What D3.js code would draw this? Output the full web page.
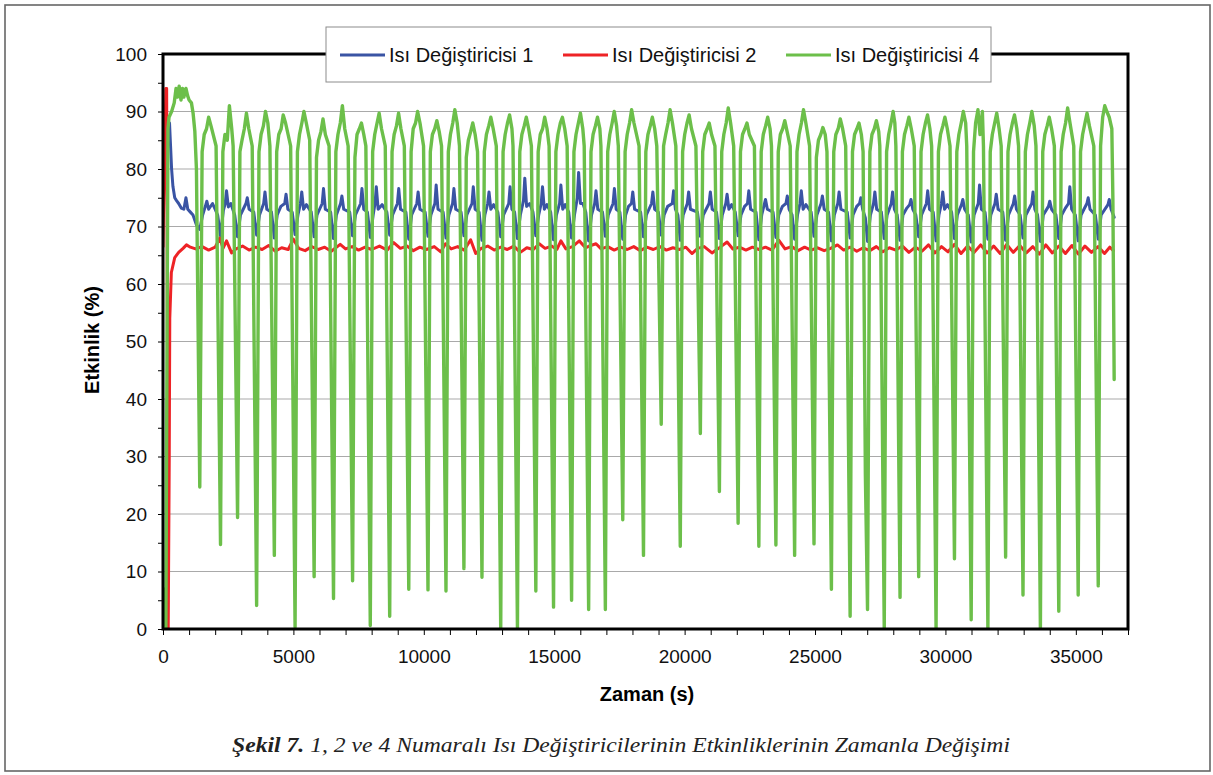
<!DOCTYPE html>
<html><head><meta charset="utf-8">
<script src="https://cdn.jsdelivr.net/npm/d3@7/dist/d3.min.js"></script>
<style>body{margin:0;background:#fff}svg{display:block}</style>
</head><body><svg id="c" width="1213" height="775"></svg>
<script>
const seriesNames = ["Isı Değiştiricisi 1", "Isı Değiştiricisi 2", "Isı Değiştiricisi 4"];
const seriesColors = ["#3a54a4", "#ee2326", "#6cbf4a"];
const xTickLabels = [0, 5000, 10000, 15000, 20000, 25000, 30000, 35000];
const xMinorTicks = [0,1000,2000,3000,4000,5000,6000,7000,8000,9000,10000,11000,12000,13000,14000,15000,16000,17000,18000,19000,20000,21000,22000,23000,24000,25000,26000,27000,28000,29000,30000,31000,32000,33000,34000,35000,36000,37000];
const yTickLabels = [0, 10, 20, 30, 40, 50, 60, 70, 80, 90, 100];
const yMinorTicks = [0,5,10,15,20,25,30,35,40,45,50,55,60,65,70,75,80,85,90,95,100];
const xTitle = "Zaman (s)";
const yTitle = "Etkinlik (%)";

// Isı Değiştiricisi 1 (blue)
const hx1 = [
[250,88],[290,84],[330,80],[380,77],[450,75],[520,74.5],[600,74],[700,73.2],[800,73],[880,75],[950,73],[1050,72.5],[1150,72],[1280,70.3],
[1410,69.5],[1520,72],[1630,73.6],[1680,74.4],[1750,73],[1900,74],[2095,72],
[2205,68.4],[2315,72.8],[2386,74],[2436,76.2],[2506,73.4],[2600,74],[2749,72],
[2859,68.2],[2969,72],[3181,74],[3231,75],[3301,73],[3480,72.5],
[3590,68.5],[3700,72],[3860,74],[3910,76],[3980,73],[4159,72.5],
[4269,68],[4379,72],[4520,73.5],[4668,74],[4718,75.6],[4788,73],[4954,72.5],
[5064,68.6],[5174,72],[5270,74],[5320,76],[5390,73],[5500,73.8],[5685,72.5],
[5795,68.2],[5905,72],[6104,74],[6154,76.6],[6224,73],[6428,72.5],
[6538,67.9],[6648,72],[6809,74],[6859,75.3],[6929,73],[7159,72.5],
[7269,68.4],[7379,72],[7578,74],[7628,76.6],[7698,73],[7838,72.5],
[7948,68.1],[8058,72],[8129,74],[8179,76.9],[8249,73],[8400,73.8],[8582,72.5],
[8692,68.5],[8802,72],[8988,74],[9038,76.6],[9108,73],[9313,72.5],
[9423,67.8],[9533,72],[9732,74],[9782,76],[9852,73],[10050,72.5],
[10160,68.3],[10270,72],[10424,74],[10474,77.2],[10544,73],[10740,72.5],
[10850,68],[10960,72],[11104,74],[11154,76.6],[11224,73],[11428,72.5],
[11538,68.4],[11648,72],[11847,74],[11897,76.9],[11967,73],[12120,72.5],
[12230,67.6],[12340,72],[12450,74],[12500,76],[12570,73],[12680,73.8],[12839,72.5],
[12949,68.2],[13059,72],[13257,74],[13307,76.9],[13377,73],[13480,72.5],
[13590,67.9],[13700,72],[13822,74.5],[13872,78.4],[13942,73.5],[14060,74],[14185,72.5],
[14295,68.4],[14405,72],[14501,74],[14551,76.9],[14621,73],[14720,73.8],[14864,72.5],
[14974,67.7],[15084,72],[15206,74],[15256,77.2],[15326,73],[15420,73.8],[15556,72.5],
[15666,68],[15776,72],[15886,75],[15936,79.4],[16006,74],[16100,74],[16210,72.5],
[16320,67.5],[16430,72],[16552,74],[16602,76.2],[16672,73],[16851,72.5],
[16961,68.3],[17071,72],[17257,74],[17307,76.6],[17377,73],[17518,72.5],
[17628,67.8],[17738,72],[17850,73.5],[17962,74],[18012,76],[18082,73],[18313,72.5],
[18423,68.2],[18533,72],[18732,74],[18782,76],[18852,73],[18993,72.5],
[19103,68.5],[19213,72],[19350,73.5],[19527,74],[19577,76.2],[19647,73],[19740,72],
[19833,67.6],[19943,72],[20104,74],[20154,76],[20224,73],[20493,72.5],
[20603,68.3],[20713,72],[20937,74],[20987,76],[21057,73],[21223,72.5],
[21333,67.9],[21443,72],[21578,74],[21628,75.6],[21698,73],[21800,73.8],[21941,72.5],
[22051,68.4],[22161,72],[22300,73.5],[22411,74],[22461,76.2],[22531,73],[22736,72.5],
[22846,67.7],[22956,72],[23052,73.8],[23102,74.7],[23172,73],[23390,72.5],
[23500,68.1],[23610,72],[23750,73.5],[23886,74],[23936,75.3],[24006,73],[24120,72],
[24218,67.8],[24328,72],[24424,74],[24474,76.2],[24544,73],[24650,73.8],[24851,72.5],
[24961,68.3],[25071,72],[25232,74],[25282,75.3],[25352,73],[25518,72.5],
[25628,67.5],[25738,72],[25873,74],[25923,76],[25993,73],[26236,72.5],
[26346,68],[26456,72],[26600,73.5],[26706,74],[26756,75],[26826,73],[26930,71.5],
[27013,67.4],[27123,72],[27244,74],[27294,76],[27364,73],[27544,72.5],
[27654,67.9],[27764,72],[27924,74],[27974,76],[28044,73],[28150,72],
[28260,67.6],[28370,72],[28520,73.2],[28629,73.8],[28679,74.7],[28749,73],[28864,72],
[28974,68.2],[29084,72],[29270,74],[29320,76.2],[29390,73],[29531,72.5],
[29641,67.5],[29751,72],[29847,74],[29897,76],[29967,73],[30080,73.8],[30236,72.5],
[30346,67.9],[30456,72],[30617,73.8],[30667,74.7],[30737,73],[30877,72],
[30987,67.3],[31097,72],[31258,74],[31308,77.2],[31378,73],[31518,72.5],
[31628,67.8],[31738,72],[31899,74],[31949,75.6],[32019,73],[32198,72.5],
[32308,67.6],[32418,72],[32604,74],[32654,75.3],[32724,73],[32864,72],
[32974,68],[33084,72],[33309,74],[33359,76],[33429,73],[33531,72],
[33641,67.4],[33751,72],[33950,73.5],[34000,74.4],[34070,73],[34236,72],
[34346,67.9],[34456,72],[34600,73.2],[34719,74],[34769,76.9],[34839,73],[34980,72],
[35090,67.5],[35200,72],[35424,74],[35474,75],[35544,73],[35749,72],
[35859,67.8],[35969,72],[36232,73.8],[36282,74.7],[36352,73],[36470,71.6]
];

// Isı Değiştiricisi 2 (red)
const hx2 = [
[0,66.5],[30,75],[110,94],[140,94],[200,0],[240,30],[260,54],[320,62],[450,64.6],[600,65.5],[770,66.2],[900,66.8],
[1050,66.4],[1250,66.1],[1500,66.5],[1750,65.9],[2000,66.4],[2180,68],[2300,66.2],[2436,67.5],[2630,65.4],[2800,66.1],
[3050,66.6],[3300,65.9],[3550,66.4],[3800,66.0],[4050,66.7],[4300,65.7],[4550,66.3],[4800,66.0],[5000,67.8],[5200,66.2],
[5450,65.8],[5700,66.5],[5950,66.0],[6200,66.4],[6450,65.7],[6795,66.9],[7000,66.1],[7250,66.5],[7500,65.9],[7750,66.4],
[8000,66.0],[8300,66.6],[8600,65.9],[8846,67.2],[9100,66.2],[9350,66.6],[9600,65.8],[9850,66.4],[10100,66.0],[10400,66.5],
[10650,65.6],[10833,67],[11050,66.1],[11300,66.5],[11550,65.9],[11795,67.7],[11990,65.3],[12200,66.2],[12450,66.6],[12700,65.9],
[12950,66.4],[13200,66.0],[13450,66.6],[13700,65.5],[13950,66.3],[14200,66.0],[14423,67],[14650,66.2],[14900,66.6],[15100,66.0],
[15256,67.5],[15450,66.1],[15700,66.5],[15961,67.5],[16200,66.3],[16400,66.7],[16602,67],[16800,66.1],[17050,66.5],[17300,65.9],
[17550,66.4],[17800,66.0],[18050,66.5],[18300,65.8],[18550,66.4],[18800,66.0],[19050,66.5],[19300,65.9],[19550,66.3],[19800,66.0],
[20050,66.4],[20282,65.3],[20500,66.2],[20750,66.5],[21050,65.4],[21300,66.2],[21628,67.3],[21850,66.1],[22100,66.4],[22350,65.9],
[22600,66.4],[22850,66.0],[23100,66.4],[23350,65.9],[23615,67.6],[23850,66.1],[24100,66.5],[24350,65.8],[24600,66.4],[24850,65.9],
[25100,66.3],[25350,65.8],[25600,66.2],[25859,66.8],[26100,65.9],[26350,66.4],[26600,65.7],[26850,66.3],[27100,65.8],[27350,66.5],
[27600,65.6],[27850,66.3],[28100,65.9],[28350,66.6],[28600,65.5],[28850,66.4],[29100,65.7],[29350,66.8],[29600,65.4],[29850,66.5],
[30100,65.6],[30350,66.9],[30600,65.3],[30850,66.6],[31100,65.5],[31350,66.8],[31600,65.4],[31850,66.6],[32100,65.3],[32350,66.9],
[32600,65.5],[32850,66.7],[33100,65.4],[33350,66.5],[33600,65.2],[33850,66.8],[34100,65.4],[34350,66.6],[34600,65.3],[34850,66.7],
[35100,65.2],[35350,66.6],[35600,65.5],[35850,66.5],[36100,65.3],[36300,66.4],[36440,65.8]
];

// Isı Değiştiricisi 4 (green)
const hx4 = [
[0,7],[50,6.5],[80,2],[110,0.3],[150,45],[190,87],[230,89],[330,90],[430,91.5],[500,94],[560,92.5],[620,94.4],[690,92],[750,94],[800,92.5],[880,94],[940,92.8],[1000,92],[1090,91.5],[1154,89.7],[1220,86.6],[1282,80],
[1410,24.7],[1500,83],[1580,86],[1670,87],[1750,89],[1840,87.5],[2035,84],
[2205,14.7],[2295,83],[2375,86],[2465,85],[2545,91],[2635,87],[2689,84],
[2859,19.4],[2949,83],[3029,85],[3119,87],[3199,89.7],[3289,87],[3420,84],
[3590,4.1],[3680,83],[3760,86],[3850,87.5],[3930,90],[4020,88],[4099,84],
[4269,12.8],[4359,83],[4439,86],[4529,87],[4609,89.4],[4699,88],[4894,84],
[5064,0.3],[5154,83],[5234,86],[5324,88],[5404,90],[5494,88],[5625,85],
[5795,9.1],[5885,82],[5965,85],[6055,86.5],[6135,88.7],[6225,86],[6368,84],
[6538,5.3],[6628,83],[6708,86],[6798,88],[6878,91],[6968,87],[7099,84],
[7269,8.4],[7359,82],[7439,86],[7529,87],[7609,88],[7699,86],[7778,84],
[7948,0.6],[8038,83],[8118,86],[8208,88],[8288,89.7],[8378,87],[8522,84],
[8692,2.2],[8782,83],[8862,86],[8952,87.5],[9032,89.7],[9122,87],[9253,84],
[9423,6.9],[9513,83],[9593,87],[9683,88],[9763,90],[9853,88],[9990,84],
[10160,6.8],[10250,83],[10330,86],[10420,87],[10500,88.4],[10590,86.5],[10680,84],
[10850,6.6],[10940,83],[11020,86],[11110,88],[11190,90.3],[11280,88],[11368,84],
[11538,10.5],[11628,82],[11708,85],[11798,86.5],[11878,88],[11968,86],[12060,83],
[12230,9],[12320,83],[12400,86],[12490,87.5],[12570,89],[12660,87],[12779,84],
[12949,0],[13039,83],[13119,86],[13209,88],[13289,89.4],[13379,87],[13420,84],
[13590,0],[13680,83],[13760,86],[13850,87.5],[13930,89],[14020,87],[14125,84],
[14295,6.6],[14385,83],[14465,86],[14555,87],[14635,89],[14725,87],[14804,84],
[14974,3.8],[15064,83],[15144,86],[15234,88],[15314,89],[15404,87],[15496,84],
[15666,5],[15756,83],[15836,86],[15926,88],[16006,89.7],[16096,87],[16150,84],
[16320,3.4],[16410,83],[16490,86],[16580,87.5],[16660,89],[16750,87],[16791,84],
[16961,3.4],[17051,83],[17131,86],[17221,88],[17301,90],[17391,87.5],[17458,84],
[17628,19],[17718,83],[17798,86],[17888,88],[17968,90.3],[18058,88],[18253,84],
[18423,12.8],[18513,83],[18593,86],[18683,87.5],[18763,89],[18853,87],[18933,84],
[19103,35.6],[19193,84],[19273,86],[19363,88],[19443,90.3],[19533,88],[19663,84],
[19833,14.4],[19923,83],[20003,86],[20093,88],[20173,89.4],[20263,87],[20433,84],
[20603,34],[20693,83],[20773,86],[20863,87],[20943,88],[21033,86],[21163,84],
[21333,23.9],[21423,83],[21503,86],[21593,88],[21673,90.6],[21763,88],[21881,84],
[22051,18.4],[22141,83],[22221,86],[22311,87],[22391,88],[22481,86],[22676,84],
[22846,14.4],[22936,83],[23016,86],[23106,87.5],[23186,89],[23276,87],[23330,84],
[23500,14.6],[23590,83],[23670,86],[23760,87],[23840,88.4],[23930,86.5],[24048,84],
[24218,12.8],[24308,83],[24388,86],[24478,88],[24558,90.3],[24648,88],[24791,84],
[24961,14.8],[25051,82],[25131,85],[25221,86],[25301,87.2],[25391,86],[25458,83],
[25628,6.9],[25718,83],[25798,86],[25888,87],[25968,88.7],[26058,87],[26176,84],
[26346,2.2],[26436,83],[26516,86],[26606,87],[26686,88],[26776,86],[26843,83],[26930,27],
[27013,3.4],[27103,83],[27183,86],[27273,87],[27353,88.4],[27443,86.5],[27484,84],
[27654,0],[27744,83],[27824,86],[27914,88],[27994,90],[28060,88],[28100,84],
[28260,5.5],[28350,83],[28430,86],[28520,87.5],[28600,89],[28690,87],[28804,84],
[28974,9.1],[29064,83],[29144,86],[29234,88],[29314,89.4],[29404,87],[29471,84],
[29641,0],[29731,83],[29811,86],[29901,87.5],[29981,89],[30071,87],[30176,84],
[30346,12.2],[30436,83],[30516,86],[30606,88],[30686,90],[30776,88],[30817,84],
[30987,1.6],[31077,83],[31157,88],[31247,90.3],[31327,86],[31417,90],[31458,84],
[31628,0],[31718,83],[31798,86],[31888,88],[31968,89.7],[32058,87],[32138,84],
[32308,12.5],[32398,83],[32478,86],[32568,88],[32648,89.4],[32738,87],[32804,84],
[32974,5.9],[33064,83],[33144,86],[33234,88],[33314,90],[33404,87.5],[33471,84],
[33641,0],[33731,83],[33811,86],[33901,87.5],[33981,89],[34071,87],[34176,84],
[34346,3.1],[34436,83],[34516,86],[34606,88],[34686,90.6],[34776,88],[34920,84],
[35090,5.9],[35180,83],[35260,86],[35350,88],[35430,89.7],[35520,87.5],[35689,84],
[35859,7.5],[35949,84],[36029,89],[36109,91],[36189,90],[36280,89],[36380,87],[36420,75],[36470,43.4]
];

const caption = ["Şekil 7.", " 1, 2 ve 4 Numaralı Isı Değiştiricilerinin Etkinliklerinin Zamanla Değişimi"];

const svg = d3.select("#c");
const W = 1213, H = 775;
const L = 163, R = 1128, T = 54, B = 629;
const x = d3.scaleLinear().domain([0, 37000]).range([L, R]);
const y = d3.scaleLinear().domain([0, 100]).range([B, T]);
const sans = "'Liberation Sans', Arial, sans-serif";

svg.append("rect").attr("width", W).attr("height", H).attr("fill", "#fff");
svg.append("rect").attr("x", 5).attr("y", 5).attr("width", 1205).attr("height", 766)
  .attr("fill", "none").attr("stroke", "#666").attr("stroke-width", 1.6);

// gridlines
svg.append("g").selectAll("line").data(yTickLabels.filter(d => d > 0 && d < 100)).join("line")
  .attr("x1", L).attr("x2", R).attr("y1", d => y(d)).attr("y2", d => y(d))
  .attr("stroke", "#a9a9a9").attr("stroke-width", 1);

// axes
const yAxis = d3.axisLeft(y).tickValues(yMinorTicks).tickSize(5).tickPadding(11)
  .tickFormat(d => yTickLabels.includes(d) ? d : "");
const gy = svg.append("g").attr("transform", `translate(${L},0)`).call(yAxis);
const xAxis = d3.axisBottom(x).tickValues(xMinorTicks).tickSize(6).tickPadding(15)
  .tickFormat(d => xTickLabels.includes(d) ? d : "");
const gx = svg.append("g").attr("transform", `translate(0,${B})`).call(xAxis);
[gx, gy].forEach(g => {
  g.select(".domain").remove();
  g.selectAll(".tick line").attr("stroke", "#000").attr("stroke-width", 1);
  g.selectAll(".tick text").attr("font-family", sans).attr("font-size", 19).attr("fill", "#111");
});

// clip
svg.append("clipPath").attr("id", "clip").append("rect")
  .attr("x", L).attr("y", T - 2).attr("width", R - L).attr("height", B - T + 2);

const line = d3.line().x(d => x(d[0])).y(d => y(d[1])).curve(d3.curveLinear);
const data = [hx1, hx2, hx4];
const widths = [3, 3, 3.4];
const plot = svg.append("g").attr("clip-path", "url(#clip)");
data.forEach((s, i) => {
  plot.append("path").datum(s).attr("d", line).attr("fill", "none")
    .attr("stroke", seriesColors[i]).attr("stroke-width", widths[i])
    .attr("stroke-linejoin", "round").attr("stroke-linecap", "round");
});

// plot border
svg.append("rect").attr("x", L).attr("y", T).attr("width", R - L).attr("height", B - T)
  .attr("fill", "none").attr("stroke", "#000").attr("stroke-width", 3);

// legend
const lg = svg.append("g");
lg.append("rect").attr("x", 326).attr("y", 27).attr("width", 665).attr("height", 55)
  .attr("fill", "#fff").attr("stroke", "#8c8c8c").attr("stroke-width", 1);
const legX = [340, 563, 786];
seriesNames.forEach((n, i) => {
  lg.append("line").attr("x1", legX[i]).attr("x2", legX[i] + 45).attr("y1", 55).attr("y2", 55)
    .attr("stroke", seriesColors[i]).attr("stroke-width", 3);
  lg.append("text").attr("x", legX[i] + 49).attr("y", 62).text(n)
    .attr("font-family", sans).attr("font-size", 20).attr("fill", "#111");
});

// titles
svg.append("text").attr("x", 647).attr("y", 701).attr("text-anchor", "middle")
  .attr("font-family", sans).attr("font-weight", "bold").attr("font-size", 20).text(xTitle);
svg.append("text").attr("transform", "translate(99,340) rotate(-90)").attr("text-anchor", "middle")
  .attr("font-family", sans).attr("font-weight", "bold").attr("font-size", 20).text(yTitle);

// caption
const cap = svg.append("text").attr("x", 232).attr("y", 752)
  .attr("font-family", "Liberation Serif").attr("font-style", "italic")
  .attr("font-size", 22).attr("fill", "#222")
  .attr("textLength", 778).attr("lengthAdjust", "spacingAndGlyphs");
cap.append("tspan").attr("font-weight", "bold").text(caption[0]);
cap.append("tspan").text(caption[1]);
</script>
</body></html>
